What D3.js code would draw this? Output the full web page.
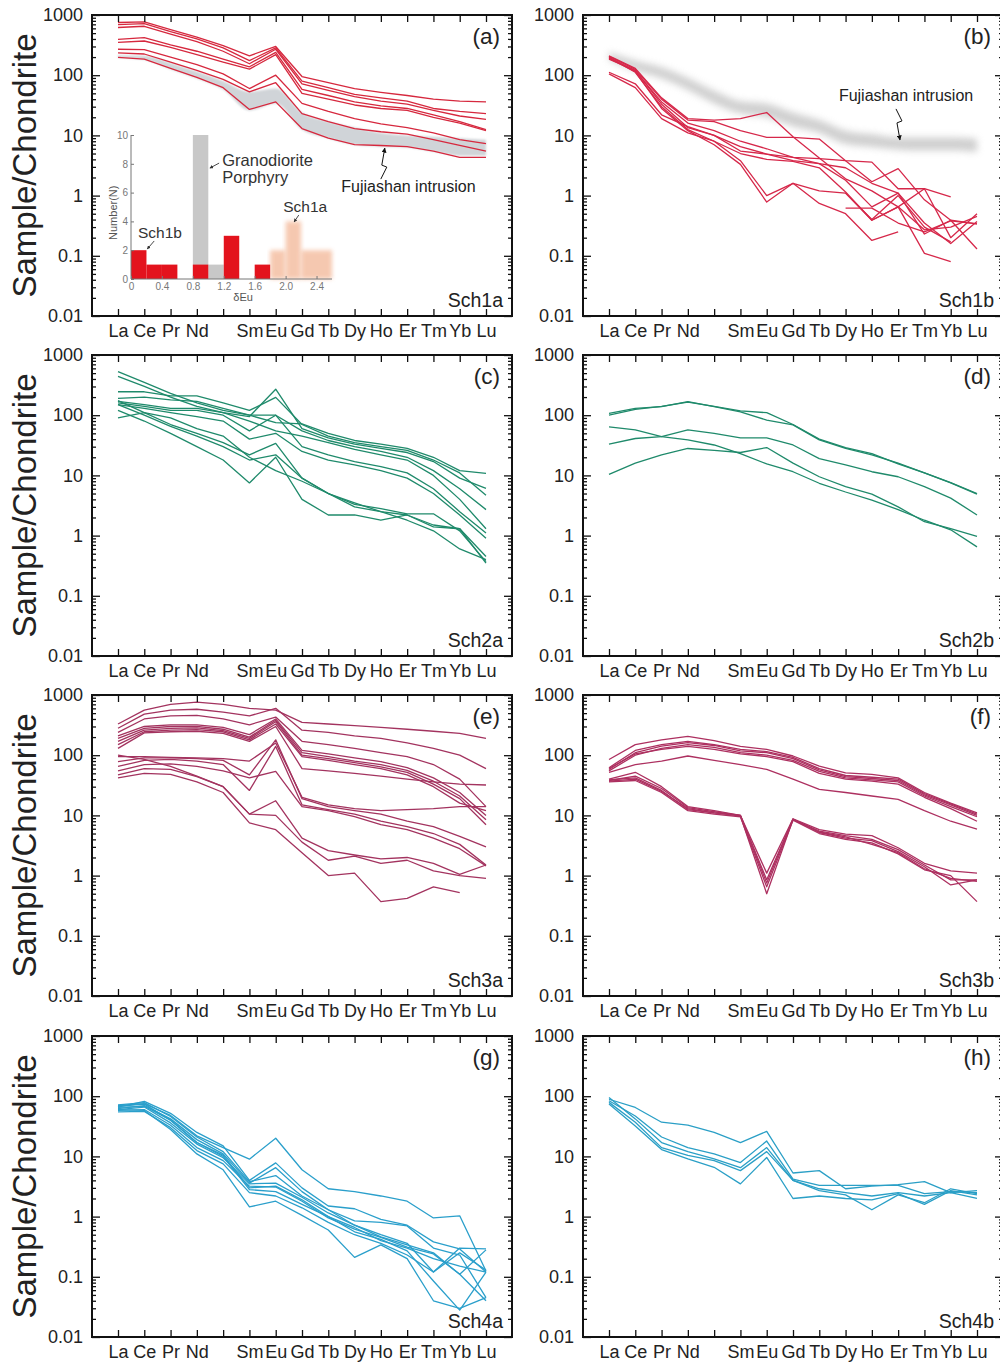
<!DOCTYPE html>
<html>
<head>
<meta charset="utf-8">
<script src="https://cdn.jsdelivr.net/npm/d3@7"></script>
<style>
  body { margin: 0; background: #fff; }
  text { font-family: "Liberation Sans", Arial, sans-serif; }
</style>
</head>
<body>
<div id="chart"></div>
<script>
// REE order (Pm has a tick but no label)
const REE = ["La","Ce","Pr","Nd","Pm","Sm","Eu","Gd","Tb","Dy","Ho","Er","Tm","Yb","Lu"];
const xLabels = ["La","Ce","Pr","Nd","","Sm","Eu","Gd","Tb","Dy","Ho","Er","Tm","Yb","Lu"];
const yMajor = [0.01, 0.1, 1, 10, 100, 1000];

// chondrite-normalised values, one row per sample, La..Lu
const sch1a = [
  [750,770,570,430,310,210,300,95,75,60,52,46,40,37,36],
  [690,720,530,400,285,175,285,80,62,48,42,37,28,25,23],
  [620,650,480,360,250,155,270,72,56,44,37,33,26,21,18.5],
  [395,420,320,250,185,138,240,58,46,36,31,28,22,17,12.5],
  [350,370,290,220,165,126,220,50,40,32,28,26,20,16,12],
  [270,265,200,150,105,60,100,34,25,19,15.5,13.5,11,8.5,7.3],
  [235,225,165,120,85,53,75,23,17,13,11.5,10.5,8.5,6.8,5.5],
  [198,185,130,92,62,27,36,13,9,7,6.8,6.5,5.5,4.3,4.3]
];
const sch1b = [
  [210,130,42,19,18,19,24,9.5,4.2,1.9,1.2,0.65,0.27,0.3,0.45],
  [205,125,40,18,17,12,9.3,9.3,8.7,3.8,3.6,1.3,1.3,0.95,null],
  [195,118,36,16,12,8,6,4.3,4.1,3.8,1.7,2.8,0.85,0.39,0.13],
  [185,120,33,13.5,10,6.5,4.9,3.8,3.4,2.9,1.6,1.1,0.35,0.16,0.37],
  [200,112,30,12.5,8,3.8,1.0,1.6,1.2,1.1,0.39,0.65,0.11,0.08,null],
  [190,115,28,12,7,3.3,0.78,1.6,0.74,0.5,0.18,0.25,null,null,null],
  [112,72,22,14,10,5.5,4.9,4.3,3.4,1.8,0.65,1.1,0.23,0.39,0.34],
  [105,62,19,11,8,5,4,3.7,2.9,1.15,0.39,0.65,1.3,0.2,0.5],
  [null,null,null,null,null,null,null,null,null,0.62,0.62,0.35,0.25,0.38,0.34],
  [null,null,null,null,null,null,null,null,null,1.1,0.4,1.0,0.3,0.17,null]
];
const sch2a = [
  [530,350,230,160,120,100,75,72,50,38,33,28,20,12,10.8],
  [440,300,200,140,110,95,270,60,42,33,28,24,17,9,6.1],
  [245,245,210,210,160,120,198,70,45,35,30,26,18,11,4.7],
  [190,200,180,170,130,100,100,55,38,30,25,20,12,6,2.7],
  [170,150,130,130,110,80,55,45,35,27,22,18,10,4,1.3],
  [160,140,120,120,100,55,100,30,22,17,14,11,6,2.5,1.1],
  [150,130,110,95,80,40,50,25,18,15,12,9,5,2.2,0.9],
  [175,110,70,50,35,22,34,9,5,3,2.5,2.2,1.5,1.3,0.45],
  [150,100,65,45,30,18,22,9,5,3.3,2.8,2.3,2.3,1.2,0.37],
  [120,80,50,30,18,7.5,20,4,2.2,2.2,1.8,2.2,1.4,1.3,0.35],
  [90,110,90,60,45,20,12,8,5,3.5,2.5,1.8,1.2,0.6,0.4]
];
const sch2b = [
  [107,130,139,168,139,114,83,69,39,28,22,16,11,7.5,4.9],
  [100,125,140,165,140,118,110,70,40,29,23,15.5,11,7.6,5.0],
  [33,41,44,57,50,42,42,32,19,15,11.5,9.5,6.5,4.2,2.2],
  [64,57,44,39,32,23,15.5,11.5,7.4,5.3,3.9,2.7,1.8,1.25,0.65],
  [10.4,16,22,28,26,24,29,16,9.5,6.5,4.9,3.0,1.7,1.3,0.97]
];
const sch3a = [
  [330,560,700,760,700,600,560,350,330,310,290,270,250,230,190],
  [280,480,560,580,520,450,600,260,240,210,190,160,130,100,60],
  [240,400,450,460,400,320,430,170,150,130,110,95,70,40,14],
  [210,300,320,320,290,220,400,120,105,90,78,62,42,24,10],
  [190,280,300,300,270,200,380,110,95,80,70,56,37,21,8.5],
  [170,260,280,285,255,190,360,100,88,75,64,52,33,19,7],
  [150,245,260,265,245,180,330,95,82,70,60,47,30,16,12],
  [130,235,245,250,230,170,300,60,55,50,45,40,36,33,32],
  [95,95,92,90,88,80,160,20,15,13,12,12.5,13,14,14],
  [78,90,90,88,82,47,180,19,14,12,10.5,8,6.5,4.5,3],
  [65,82,85,80,70,26,140,15,12.5,10.5,8,6.5,5,3.3,1.5],
  [55,70,72,65,55,42,54,14,12,9.5,7,5.8,4.2,2.8,1.45],
  [100,85,65,45,30,10.5,17.5,4.2,2.6,2.2,1.9,2.0,1.6,1.05,1.5],
  [47,60,58,44,30,10.5,10,3.6,1.8,2.1,1.6,1.8,1.2,1.0,0.9],
  [42,50,48,36,24,7.5,5.8,2.4,1.0,1.1,0.37,0.42,0.65,0.52,null]
];
const sch3b = [
  [85,150,180,205,175,140,125,97,66,51,48,42,24,16,11],
  [62,120,150,170,150,125,115,92,60,46,43,40,23,15.5,10.5],
  [58,110,142,162,145,118,110,88,57,44,41,38,22,15,10],
  [55,100,130,150,135,110,100,82,54,42,39,36,21,14,9.5],
  [60,105,125,140,125,105,95,78,50,40,37,33,20,13,8],
  [52,70,80,97,82,70,58,40,27,24,21,18.5,12,8,5.9],
  [40,52,30,14,12,10,1.1,8.8,5.8,4.9,4.6,2.9,1.6,1.2,1.1],
  [38,45,28,13.5,11.5,10,0.85,8.6,5.5,4.6,4.0,2.7,1.5,0.85,0.85],
  [37,40,25,13,11,9.8,0.5,8.5,5.2,4.2,3.8,2.5,1.4,0.7,0.85],
  [36,38,24,12,10.5,9.5,0.65,8.3,5,4,3.5,2.3,1.25,1.0,0.37],
  [39,42,26,12.5,11,10,0.75,8.7,5.3,4.4,3.3,2.4,1.3,0.9,0.8]
];
const sch4a = [
  [70,75,48,22,14,9,20,6,2.9,2.6,2.2,1.8,0.95,1.03,0.125],
  [66,82,52,25,15,4,7.8,3,1.5,1.35,0.9,0.72,0.38,0.29,0.12],
  [62,70,42,19,11,3.6,6.5,2.6,1.3,0.85,0.8,0.7,0.3,0.23,0.045],
  [60,66,36,16,9.5,3.5,3.6,2.1,1.15,0.72,0.5,0.36,0.12,0.3,0.29],
  [58,60,33,14,8.5,3.2,3.1,1.8,0.95,0.62,0.45,0.31,0.24,0.11,0.04],
  [68,74,40,17,10,2.8,2.6,1.6,1.0,0.56,0.42,0.27,0.085,0.028,0.12],
  [55,56,30,12.5,7.5,2.5,2.2,1.4,0.8,0.5,0.36,0.23,0.12,0.25,0.13],
  [60,58,28,11,6,1.45,1.8,1.05,0.6,0.21,0.34,0.2,0.04,0.03,0.045],
  [72,78,46,21,12,3.8,4.8,2.2,1.3,0.72,0.46,0.34,0.25,0.11,0.28],
  [65,68,40,17,10.5,3,3.2,1.9,1.0,0.66,0.4,0.3,0.2,0.15,0.12]
];
const sch4b = [
  [89,65,37,33,25,17,26,5.3,5.8,2.9,3.2,3.4,3.8,2.5,2.7],
  [84,47,21,14,11,7.9,18,4.2,3.3,3.3,3.3,3.3,2.4,2.6,2.5],
  [95,42,17,12,9.1,6.5,14,4.0,2.9,2.5,2.2,2.5,2.2,2.5,2.0],
  [79,37,14,10.4,8.5,5.8,12,4.0,2.7,2.3,1.3,2.3,1.7,2.9,2.4],
  [74,32,13,9.1,6.6,3.5,9.6,2.0,2.2,2.0,1.9,2.4,1.6,2.7,2.3]
];

// Fujiashan intrusion field (lower / upper bounds)
const fujiaLowA = [195,180,125,88,58,26,34,12.5,9,7,6.5,6.3,5.4,4.6,4.6];
const fujiaHighA = [215,210,160,115,80,53,60,24,17,13.5,11,10,9.5,9,8.5];
const fujiaLowB = [180,118,88,57,34,23,20,14,11,7.2,6.4,5.8,5.6,5.6,5.3];
const fujiaHighB = [240,175,135,90,55,37,34,24,18,12,10.5,9.2,9.2,9.2,8.8];

// δEu histogram inset: [from, to, count]
const euTicks = [0,0.4,0.8,1.2,1.6,2.0,2.4];
const countTicks = [0,2,4,6,8,10];
const porphyryBins = [[0.8,1.0,10],[1.0,1.2,1]];
const sch1aBins = [[1.8,2.0,2],[2.0,2.2,4],[2.2,2.6,2]];
const sch1bBins = [[0,0.2,2],[0.2,0.4,1],[0.4,0.6,1],[0.8,1.0,1],[1.2,1.4,3],[1.6,1.8,1]];

const panels = [
  {tag:"(a)", name:"Sch1a", lines:sch1a, color:"#d6283e", row:0, col:0},
  {tag:"(b)", name:"Sch1b", lines:sch1b, color:"#d6284a", row:0, col:1},
  {tag:"(c)", name:"Sch2a", lines:sch2a, color:"#1f8a6b", row:1, col:0},
  {tag:"(d)", name:"Sch2b", lines:sch2b, color:"#1f8a6b", row:1, col:1},
  {tag:"(e)", name:"Sch3a", lines:sch3a, color:"#a3335f", row:2, col:0},
  {tag:"(f)", name:"Sch3b", lines:sch3b, color:"#ad3060", row:2, col:1},
  {tag:"(g)", name:"Sch4a", lines:sch4a, color:"#2a9fcb", row:3, col:0},
  {tag:"(h)", name:"Sch4b", lines:sch4b, color:"#2a9fc6", row:3, col:1}
];

const W = 1000, H = 1367;
const colLeft = [92, 583], rowTop = [15, 355, 695, 1036];
const pw = 420, ph = 301;

const svg = d3.select("#chart").append("svg").attr("width", W).attr("height", H);
const defs = svg.append("defs");
defs.append("filter").attr("id","blurA").append("feGaussianBlur").attr("stdDeviation",0.8);
defs.append("filter").attr("id","blurB").attr("x","-10%").attr("y","-30%").attr("width","120%").attr("height","160%")
  .append("feGaussianBlur").attr("stdDeviation",3.5);
defs.append("filter").attr("id","blurP").attr("x","-20%").attr("y","-20%").attr("width","140%").attr("height","140%")
  .append("feGaussianBlur").attr("stdDeviation",2);
defs.append("marker").attr("id","head").attr("viewBox","0 0 10 10").attr("refX",9).attr("refY",5)
  .attr("markerWidth",5).attr("markerHeight",5).attr("orient","auto")
  .append("path").attr("d","M0,0L10,5L0,10z").attr("fill","#111");
defs.append("marker").attr("id","headS").attr("viewBox","0 0 10 10").attr("refX",9).attr("refY",5)
  .attr("markerWidth",4).attr("markerHeight",4).attr("orient","auto")
  .append("path").attr("d","M0,0L10,5L0,10z").attr("fill","#333");

const minor = [];
[-2,-1,0,1,2].forEach(e => { for (let k = 2; k <= 9; k++) minor.push(k * Math.pow(10, e)); });

function styleAxis(g) {
  g.select(".domain").remove();
  g.selectAll(".tick line").attr("stroke", "#111").attr("stroke-width", 1.3);
  g.selectAll("text").attr("font-family", "'Liberation Sans', Arial, sans-serif").attr("fill", "#222");
}

function bolt(g, tipX, tipY, dir) {
  // lightning-style arrow, dir=-1 points up, dir=1 points down
  const s = -dir;
  const pts = [[tipX-4, tipY+s*34],[tipX+2, tipY+s*22],[tipX-3, tipY+s*20],[tipX, tipY+s*3]];
  g.append("path").attr("d", d3.line()(pts)).attr("fill","none").attr("stroke","#111")
    .attr("stroke-width",1).attr("marker-end","url(#head)");
}

panels.forEach(p => {
  const left = colLeft[p.col], top = rowTop[p.row];
  const x = d3.scaleLinear().domain([0, 14]).range([left + 26, left + 394]);
  const y = d3.scaleLog().domain([0.01, 1000]).range([top + ph, top]);
  const g = svg.append("g");

  if (p.tag === "(a)" || p.tag === "(b)") {
    const lo = p.tag === "(a)" ? fujiaLowA : fujiaLowB;
    const hi = p.tag === "(a)" ? fujiaHighA : fujiaHighB;
    const area = d3.area().curve(d3.curveMonotoneX).x(i => x(i)).y0(i => y(lo[i])).y1(i => y(hi[i]));
    g.append("path").attr("d", area(d3.range(15)))
      .attr("fill", p.tag === "(a)" ? "#d0d4d8" : "#c8c8c8")
      .attr("opacity", p.tag === "(a)" ? 1 : 0.85)
      .attr("filter", p.tag === "(a)" ? "url(#blurA)" : "url(#blurB)");
  }

  const line = d3.line().defined(d => d != null).x((d, i) => x(i)).y(d => y(d));
  g.selectAll("path.ree").data(p.lines).join("path")
    .attr("class", "ree")
    .attr("d", line)
    .attr("fill", "none")
    .attr("stroke", p.color)
    .attr("stroke-width", 1.3)
    .attr("stroke-linejoin", "round");

  // axes: ticks point inward on all four sides
  g.append("g").attr("transform", `translate(${left},0)`)
    .call(d3.axisLeft(y).tickValues(yMajor).tickSize(-8).tickPadding(9).tickFormat(d => String(d)))
    .call(styleAxis).selectAll("text").attr("font-size", 18);
  g.append("g").attr("transform", `translate(${left},0)`)
    .call(d3.axisLeft(y).tickValues(minor).tickSize(-4).tickFormat("")).call(styleAxis);
  g.append("g").attr("transform", `translate(${left + pw},0)`)
    .call(d3.axisRight(y).tickValues(yMajor).tickSize(-8).tickFormat("")).call(styleAxis);
  g.append("g").attr("transform", `translate(${left + pw},0)`)
    .call(d3.axisRight(y).tickValues(minor).tickSize(-4).tickFormat("")).call(styleAxis);
  g.append("g").attr("transform", `translate(0,${top + ph})`)
    .call(d3.axisBottom(x).tickValues(d3.range(15)).tickSize(-7).tickPadding(8).tickFormat(i => xLabels[i]))
    .call(styleAxis).selectAll("text").attr("font-size", 18);
  g.append("g").attr("transform", `translate(0,${top})`)
    .call(d3.axisTop(x).tickValues(d3.range(15)).tickSize(-7).tickFormat("")).call(styleAxis);

  g.append("rect").attr("x", left).attr("y", top).attr("width", pw).attr("height", ph)
    .attr("fill", "none").attr("stroke", "#111").attr("stroke-width", 2);

  g.append("text").attr("x", left + pw - 12).attr("y", top + 29).attr("text-anchor", "end")
    .attr("font-size", 22.5).attr("fill", "#222").text(p.tag);
  g.append("text").attr("x", left + pw - 9).attr("y", top + ph - 9).attr("text-anchor", "end")
    .attr("font-size", 19.5).attr("fill", "#222").text(p.name);

  if (p.col === 0) {
    g.append("text").attr("transform", `translate(36,${top + ph / 2}) rotate(-90)`)
      .attr("text-anchor", "middle").attr("font-size", 33).attr("fill", "#222").text("Sample/Chondrite");
  }

  if (p.tag === "(a)") {
    g.append("text").attr("x", x(11.05)).attr("y", y(1.15)).attr("text-anchor", "middle")
      .attr("font-size", 16).attr("fill", "#222").text("Fujiashan intrusion");
    bolt(g, x(10.15), y(6.9), -1);
    drawInset(g, left, top);
  }
  if (p.tag === "(b)") {
    g.append("text").attr("x", x(11.3)).attr("y", y(37)).attr("text-anchor", "middle")
      .attr("font-size", 16).attr("fill", "#222").text("Fujiashan intrusion");
    bolt(g, x(11.07), y(7.5), 1);
  }
});

function drawInset(g, left, top) {
  const ix = d3.scaleLinear().domain([0, 2.6]).range([left + 39, left + 240]);
  const iy = d3.scaleLinear().domain([0, 10]).range([top + 264, top + 120]);
  const ig = g.append("g");

  const bars = (bins, fill) => ig.append("g").selectAll("rect").data(bins).join("rect")
    .attr("x", d => ix(d[0])).attr("width", d => ix(d[1]) - ix(d[0]))
    .attr("y", d => iy(d[2])).attr("height", d => iy(0) - iy(d[2]))
    .attr("fill", fill);

  bars(porphyryBins, "#c8c8c8");
  bars(sch1aBins, "#f5c3a8").attr("filter", "url(#blurP)").attr("opacity", 0.9);
  bars(sch1bBins, "#e3131d");

  const ax = ig.append("g").attr("transform", `translate(0,${iy(0)})`)
    .call(d3.axisBottom(ix).tickValues(euTicks).tickSize(-3).tickPadding(4)
      .tickFormat(d => d === 0 ? "0" : d.toFixed(1)));
  ax.select(".domain").attr("stroke", "#777").attr("d", `M${ix(0)},0H${ix(2.6)}`);
  ax.selectAll(".tick line").attr("stroke", "#777");
  ax.selectAll("text").attr("font-size", 10).attr("fill", "#777");

  const ay = ig.append("g").attr("transform", `translate(${ix(0)},0)`)
    .call(d3.axisLeft(iy).tickValues(countTicks).tickSize(-3).tickPadding(3));
  ay.select(".domain").attr("stroke", "#777").attr("d", `M0,${iy(0)}V${iy(10)}`);
  ay.selectAll(".tick line").attr("stroke", "#777");
  ay.selectAll("text").attr("font-size", 10).attr("fill", "#777");

  ig.append("text").attr("transform", `translate(${ix(0) - 14},${iy(4.6)}) rotate(-90)`)
    .attr("text-anchor", "middle").attr("font-size", 11).attr("fill", "#555").text("Number(N)");
  ig.append("text").attr("x", ix(1.45)).attr("y", iy(0) + 22).attr("text-anchor", "middle")
    .attr("font-size", 11).attr("fill", "#555").text("δEu");

  const note = (tx, ty, str, size) => ig.append("text").attr("x", tx).attr("y", ty)
    .attr("font-size", size).attr("fill", "#333").text(str);
  const arrow = (x1, y1, x2, y2) => ig.append("line").attr("x1", x1).attr("y1", y1).attr("x2", x2).attr("y2", y2)
    .attr("stroke", "#333").attr("stroke-width", 0.9).attr("marker-end", "url(#headS)");

  note(ix(1.18), iy(7.85), "Granodiorite", 16.5);
  note(ix(1.18), iy(6.67), "Porphyry", 16.5);
  arrow(ix(1.14), iy(8.05), ix(1.02), iy(7.7));
  note(ix(0.09), iy(2.85), "Sch1b", 15.5);
  arrow(ix(0.3), iy(2.64), ix(0.21), iy(2.08));
  note(ix(1.97), iy(4.65), "Sch1a", 15.5);
  arrow(ix(2.17), iy(4.44), ix(2.11), iy(3.96));
}
</script>
</body>
</html>
